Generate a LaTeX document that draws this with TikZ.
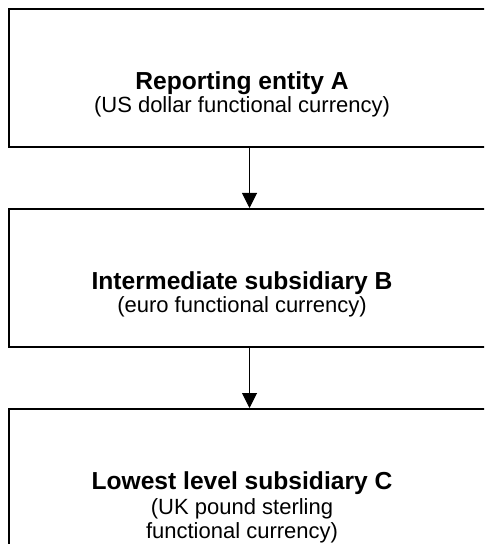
\documentclass[tikz,border=0pt]{standalone}
\usepackage{fontspec}
\setmainfont{Liberation Sans}
\usepackage{tikz}
\usetikzlibrary{arrows.meta, positioning}

\begin{document}
\begin{tikzpicture}[
    x=0.5pt, y=0.5pt,
    entity/.style={draw, line width=1pt, minimum width=240.5pt, minimum height=69pt, inner sep=0pt},
    title/.style={anchor=base, inner sep=0pt, font=\fontsize{12.3pt}{14pt}\selectfont\bfseries},
    sub/.style={anchor=base, inner sep=0pt, font=\fontsize{11pt}{13pt}\selectfont},
    arr/.style={-{Triangle[length=7.5pt, width=7.5pt]}, line width=0.5pt},
]
\useasboundingbox (0,0) rectangle (484,-544);
\clip (0,0) rectangle (484,-544);

% Boxes
\node[entity] (a) at (249.5,-78) {};
\node[entity] (b) at (249.5,-278) {};
\node[entity] (c) at (249.5,-478) {};

% Texts
\node[title] (ta) at (242,-90) {Reporting entity A};
\node[sub] (sa) at (242,-113) {(US dollar functional currency)};
\node[title] (tb) at (242,-290) {Intermediate subsidiary B};
\node[sub] (sb) at (242,-313) {(euro functional currency)};
\node[title] (tc) at (242,-489) {Lowest level subsidiary C};
\node[sub] (sc1) at (242,-514) {(UK pound sterling};
\node[sub] (sc2) at (242,-538) {functional currency)};

% Arrows
\draw[arr] (a) -- (b);
\draw[arr] (b) -- (c);
\end{tikzpicture}
\end{document}
